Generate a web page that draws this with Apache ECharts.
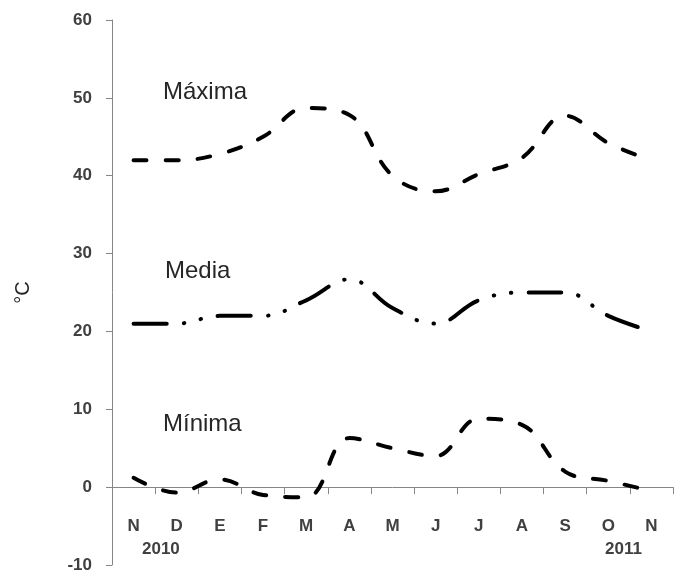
<!DOCTYPE html>
<html>
<head>
<meta charset="utf-8">
<script src="https://cdn.jsdelivr.net/npm/echarts@6/dist/echarts.min.js"></script>
<style>html,body{margin:0;padding:0;background:#fff}#c{width:684px;height:576px}</style>
</head>
<body>
<div id="c"></div>
<script>
var months = ['N','D','E','F','M','A','M','J','J','A','S','O','N'];
var maxima = [42, 42, 42.8, 45, 48.7, 47.8, 40, 38, 40.2, 42.3, 47.7, 44.2, 42];
var media  = [21, 21, 22, 22, 24, 26.7, 23, 21, 24, 25, 25, 22, 20];
var minima = [1.2, -0.7, 1, -1, -1.3, 6.3, 5, 4, 8.8, 8, 2, 0.8, -0.5];
var yTicks = {min: -10, max: 60, interval: 10};
var seriesNames = ['Máxima', 'Media', 'Mínima'];
var yearLabels = ['2010', '2011'];
var unitLabel = '°C';

var chart = echarts.init(document.getElementById('c'), null, {renderer: 'canvas'});
var axisColor = '#868686';
var tickFont = {color: '#404040', fontSize: 17, fontWeight: 'bold', fontFamily: 'Liberation Sans, Arial, sans-serif'};
var lineBase = {color: '#000', width: 4, cap: 'round', join: 'round'};

chart.setOption({
  animation: false,
  backgroundColor: '#fff',
  grid: {left: 112, right: 11, top: 20, bottom: 11, containLabel: false, outerBoundsMode: 'none'},
  xAxis: {
    type: 'category',
    data: months,
    boundaryGap: true,
    axisLine: {onZero: true, lineStyle: {color: axisColor, width: 1}},
    axisTick: {show: true, length: 7, inside: false, alignWithLabel: false, lineStyle: {color: axisColor}},
    axisLabel: Object.assign({margin: -47, interval: 0}, tickFont),
    splitLine: {show: false}
  },
  yAxis: {
    type: 'value',
    min: yTicks.min, max: yTicks.max, interval: yTicks.interval,
    name: unitLabel,
    nameLocation: 'middle',
    nameRotate: 90,
    nameGap: 79,
    nameTextStyle: {color: '#262626', fontSize: 20, fontFamily: 'Liberation Sans, Arial, sans-serif'},
    axisLine: {show: true, lineStyle: {color: axisColor, width: 1}},
    axisTick: {show: true, length: 6, lineStyle: {color: axisColor}},
    axisLabel: Object.assign({margin: 20}, tickFont),
    splitLine: {show: false}
  },
  series: [
    {name: seriesNames[0], type: 'line', data: maxima, smooth: 0.4, symbol: 'none',
     lineStyle: Object.assign({type: [13, 19]}, lineBase)},
    {name: seriesNames[1], type: 'line', data: media, smooth: 0.4, symbol: 'none',
     lineStyle: Object.assign({type: [33, 17, 0.5, 17, 0.5, 17]}, lineBase)},
    {name: seriesNames[2], type: 'line', data: minima, smooth: 0.4, symbol: 'none',
     lineStyle: Object.assign({type: [13, 19]}, lineBase)}
  ],
  graphic: [
    {type: 'text', left: 163, top: 80, style: {text: seriesNames[0], fill: '#262626', font: '24px Liberation Sans, Arial, sans-serif'}},
    {type: 'text', left: 165, top: 259, style: {text: seriesNames[1], fill: '#262626', font: '24px Liberation Sans, Arial, sans-serif'}},
    {type: 'text', left: 163, top: 412, style: {text: seriesNames[2], fill: '#262626', font: '24px Liberation Sans, Arial, sans-serif'}},
    {type: 'text', left: 142, top: 541, style: {text: yearLabels[0], fill: '#404040', font: 'bold 17px Liberation Sans, Arial, sans-serif'}},
    {type: 'text', left: 605, top: 541, style: {text: yearLabels[1], fill: '#404040', font: 'bold 17px Liberation Sans, Arial, sans-serif'}}
  ]
});
</script>
</body>
</html>
